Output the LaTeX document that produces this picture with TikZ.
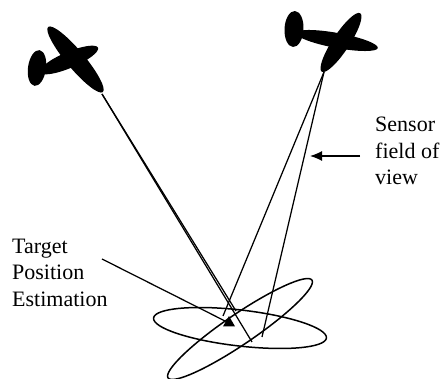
\documentclass[tikz,border=0pt]{standalone}
\usepackage{fontspec}
\setmainfont{Liberation Serif}
\usetikzlibrary{arrows.meta,shapes.geometric}
\begin{document}
\begin{tikzpicture}[x=1pt,y=-1pt,
  plane/.style={fill=black,draw=none},
  ray/.style={line width=1.25pt},
  orbit/.style={line width=1.5pt},
  caption/.style={font=\fontsize{22}{26.7}\selectfont, align=left, inner sep=0pt, anchor=base west}]
\useasboundingbox (0,0) rectangle (445,379);

% left aircraft: tail fin, fuselage, wing
\fill[plane, rotate around={-8:(37,68)}] (37,68) ellipse (9 and 18);
\fill[plane, rotate around={23:(69,60)}] (69,60) ellipse (31.5 and 8);
\fill[plane, rotate around={-50:(75.5,59.5)}] (75.5,59.5) ellipse (42.5 and 9);

% right aircraft: tail fin, fuselage, wing
\fill[plane, rotate around={-3:(294,29)}] (294,29) ellipse (9.5 and 18);
\fill[plane, rotate around={-10.4:(337,40.5)}] (337,40.5) ellipse (41.5 and 7.5);
\fill[plane, rotate around={56.7:(341,42.5)}] (341,42.5) ellipse (35 and 8.5);

% sensor apexes and footprint corners
\coordinate (lp) at (102,94);
\coordinate (la) at (236,311);
\coordinate (lb) at (252,342);
\coordinate (rp) at (324,72);
\coordinate (ra) at (223,316);
\coordinate (rb) at (262,337);

% ground uncertainty ellipses
\draw[orbit, rotate around={-6.6:(240,328)}] (240,328) ellipse (87 and 18);
\draw[orbit, rotate around={34.2:(240,329)}] (240,329) ellipse (87 and 15);

% sensor fields of view
\draw[ray] (lp) -- (la);
\draw[ray] (lp) -- (lb);
\draw[ray] (rp) -- (ra);
\draw[ray] (rp) -- (rb);

% estimated target
\node[fill=black, regular polygon, regular polygon sides=3, inner sep=0pt, minimum size=14pt] (target) at (229,323) {};

% labels (anchored on the baseline of their last line)
\node[caption] (est) at (12,306.7) {Target\\Position\\Estimation};
\node[caption] (fov) at (375,185) {Sensor\\field of\\view};

\coordinate (estptr) at (102,259);
\draw[ray] (estptr) -- (target);

\coordinate (fovtail) at (360,156);
\coordinate (fovtip) at (310,156);
\draw[ray, -{Latex[length=12pt,width=10pt]}] (fovtail) -- (fovtip);
\end{tikzpicture}
\end{document}
